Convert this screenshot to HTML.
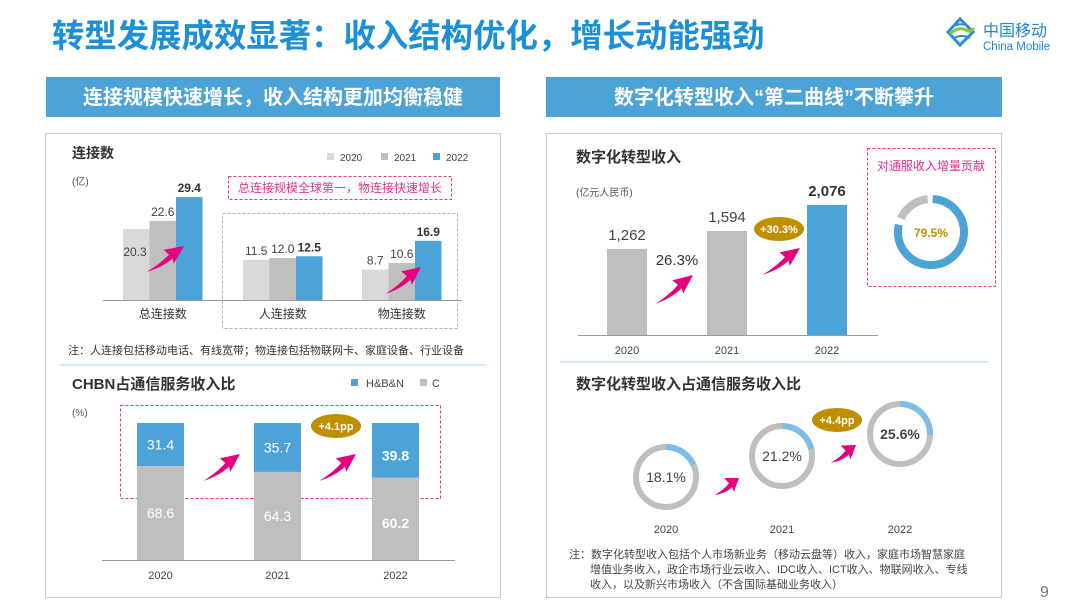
<!DOCTYPE html>
<html><head><meta charset="utf-8"><style>
html,body{margin:0;padding:0;background:#fff;width:1080px;height:607px;overflow:hidden}
svg{display:block;font-family:"Liberation Sans","Noto Sans CJK SC",sans-serif}
</style></head><body>
<svg id="s" width="1080" height="607" viewBox="0 0 1080 607">
<text x="52" y="47" font-size="32.4" font-weight="bold" fill="#1b8fd8">转型发展成效显著：收入结构优化，增长动能强劲</text>
<g>
<path d="M948,32 L960,19 L973,32 L960,45 Z" fill="none" stroke="#2a8fd6" stroke-width="3"/>
<path d="M950,34 Q958,26 966,30 Q970,33 974,28" fill="none" stroke="#8cc63f" stroke-width="3"/>
<path d="M952,27 Q960,22 968,26" fill="none" stroke="#2a8fd6" stroke-width="2"/>
<path d="M954,38 Q962,34 970,38" fill="none" stroke="#2a8fd6" stroke-width="2"/>
<text x="983" y="36" font-size="16" fill="#1f86d0">中国移动</text>
<text x="983" y="50" font-size="11.5" fill="#1f86d0">China Mobile</text>
</g>
<rect x="46" y="77" width="454" height="40" fill="#4ba3d8"/>
<text x="273" y="104" font-size="20" font-weight="bold" fill="#fff" text-anchor="middle">连接规模快速增长，收入结构更加均衡稳健</text>
<rect x="546" y="77" width="456" height="40" fill="#4ba3d8"/>
<text x="774" y="104" font-size="20" font-weight="bold" fill="#fff" text-anchor="middle">数字化转型收入“第二曲线”不断攀升</text>
<rect x="45.5" y="133.5" width="455" height="464" fill="none" stroke="#c8c8c8"/>
<rect x="546.5" y="133.5" width="455" height="464" fill="none" stroke="#c8c8c8"/>
<line x1="60" y1="365" x2="487" y2="365" stroke="#d6e9f7" stroke-width="2"/>
<line x1="560" y1="362" x2="988" y2="362" stroke="#d6e9f7" stroke-width="2"/>

<text x="72" y="158" font-size="14" font-weight="bold" fill="#333">连接数</text>
<text x="72" y="185" font-size="10" fill="#555">(亿)</text>
<rect x="228.5" y="176.5" width="223" height="23" fill="none" stroke="#e8318a" stroke-dasharray="3,2"/>
<text x="340" y="192" font-size="12" fill="#e8318a" text-anchor="middle">总连接规模全球第一，物连接快速增长</text>
<rect x="222.5" y="213.5" width="235" height="115" fill="none" stroke="#b0b0b0" stroke-dasharray="3,2"/>
<text x="68" y="354" font-size="11" fill="#333">注：人连接包括移动电话、有线宽带；物连接包括物联网卡、家庭设备、行业设备</text>

<text x="72" y="389" font-size="15" font-weight="bold" fill="#333">CHBN占通信服务收入比</text>
<text x="72" y="416" font-size="10" fill="#555">(%)</text>
<rect x="351" y="379" width="7" height="7" fill="#4ba3d8"/>
<text x="366" y="387" font-size="11" fill="#444">H&amp;B&amp;N</text>
<rect x="420" y="379" width="7" height="7" fill="#bfbfbf"/>
<text x="432" y="387" font-size="11" fill="#444">C</text>
<rect x="120.5" y="405.5" width="320" height="93" fill="none" stroke="#e8318a" stroke-dasharray="3,2"/>

<text x="576" y="162" font-size="15" font-weight="bold" fill="#333">数字化转型收入</text>
<text x="576" y="196" font-size="10" fill="#555">(亿元人民币)</text>
<rect x="867.5" y="148.5" width="128" height="138" fill="none" stroke="#e8318a" stroke-dasharray="3,2"/>
<text x="931" y="170" font-size="12" fill="#e8318a" text-anchor="middle">对通服收入增量贡献</text>

<text x="576" y="389" font-size="15" font-weight="bold" fill="#333">数字化转型收入占通信服务收入比</text>
<g font-size="11" fill="#444">
<text x="569" y="558">注：数字化转型收入包括个人市场新业务（移动云盘等）收入，家庭市场智慧家庭</text>
<text x="590" y="573">增值业务收入，政企市场行业云收入、IDC收入、ICT收入、物联网收入、专线</text>
<text x="590" y="588">收入，以及新兴市场收入（不含国际基础业务收入）</text>
</g>
<text x="1040" y="597" font-size="16" fill="#777">9</text>
<g id="dyn"></g>
</svg>
<script>
// Chart 1: connections (亿)
const connCats = ['总连接数','人连接数','物连接数'];
const connYears = ['2020','2021','2022'];
const conn2020 = [20.3, 11.5, 8.7];
const conn2021 = [22.6, 12.0, 10.6];
const conn2022 = [29.4, 12.5, 16.9];
// Chart 2: CHBN share (%)
const chbnYears = ['2020','2021','2022'];
const chbnHBN = [31.4, 35.7, 39.8];
const chbnC = [68.6, 64.3, 60.2];
// Chart 3: digital revenue
const digYears = ['2020','2021','2022'];
const digRevenue = [1262, 1594, 2076];
const digRevenueLabels = ['1,262','1,594','2,076'];
const digGrowth = ['26.3%','+30.3%'];
const contribution = [79.5];
// Chart 4: digital share (%)
const shareYears = ['2020','2021','2022'];
const shareValues = [18.1, 21.2, 25.6];

const NS='http://www.w3.org/2000/svg';
const dyn=document.getElementById('dyn');
function mk(tag,attrs,parent){const e=document.createElementNS(NS,tag);for(const k in attrs)e.setAttribute(k,attrs[k]);(parent||dyn).appendChild(e);return e;}
function txt(x,y,s,size,fill,bold,anchor){const t=mk('text',{x:x,y:y,'font-size':size,fill:fill,'text-anchor':anchor||'middle'});if(bold)t.setAttribute('font-weight','bold');t.textContent=s;return t;}
function arrow(x1,y1,x2,y2){
  const dx=x2-x1,dy=y2-y1,L=Math.hypot(dx,dy),a=Math.atan2(dy,dx)*180/Math.PI;
  const g=mk('g',{transform:`translate(${x1},${y1}) rotate(${a})`});
  
  
  mk('path',{d:`M0,1 Q${L*0.35},2 ${L*0.62},-1 L${L*0.58},-8 L${L},0 L${L*0.6},9 L${L*0.64},4 Q${L*0.35},6 0,1 Z`,fill:'#e6007e'},g);
}
function oval(cx,cy,s){
  const g=mk('g',{});
  
  
  mk('ellipse',{cx:cx,cy:cy,rx:25,ry:12,fill:'#bf8f00'},g);
  const t=txt(cx,cy+4,s,11,'#fff',true);g.appendChild(t);
}

(function(){
  const base=300, k=3.5, bw=26.5;
  const groupX=[123,243,362];
  const cols=['#d9d9d9','#bfbfbf','#4ba3d8'];
  const series=[conn2020,conn2021,conn2022];
  const y=v=>base-v*k;
  mk('line',{x1:103,y1:base+0.5,x2:462,y2:base+0.5,stroke:'#999'});
  connCats.forEach((c,i)=>{
    series.forEach((s,j)=>{
      const x=groupX[i]+j*bw;
      const r=mk('rect',{x:x,y:y(s[i]),width:bw,height:s[i]*k,fill:cols[j]});
      
      
      const label=s[i].toFixed(1);
      if(i===0&&j===0) txt(x+12,y(s[i])+27,label,12,'#444',false);
      else txt(x+bw/2,y(s[i])-5,label,12,j===2?'#333':'#444',j===2);
    });
    const t=txt(groupX[i]+bw*1.5,base+18,c,12,'#333',false);
    
    
  });
  const lx=[327,381,433];
  connYears.forEach((yr,j)=>{
    mk('rect',{x:lx[j],y:153,width:7,height:7,fill:cols[j]});
    const t=txt(lx[j]+13,161,yr,10,'#444',false,'start');
    
    
  });
  arrow(146,271,184,246);
  arrow(385,293,421,267);
})();

(function(){
  const base=560,k=1.37,bw=47,xs=[137,254,372];
  mk('line',{x1:102,y1:base+0.5,x2:455,y2:base+0.5,stroke:'#999'});
  chbnYears.forEach((yr,i)=>{
    const hC=chbnC[i]*k,hH=chbnHBN[i]*k,b=i===2;
    const r1=mk('rect',{x:xs[i],y:base-hC,width:bw,height:hC,fill:'#bfbfbf'});
    
    
    const r2=mk('rect',{x:xs[i],y:base-hC-hH,width:bw,height:hH,fill:'#4ba3d8'});
    
    
    txt(xs[i]+bw/2,base-hC-hH/2+5+(b?5:0),chbnHBN[i].toFixed(1),14,'#fff',b);
    txt(xs[i]+bw/2,base-hC/2+5+(b?4:0),chbnC[i].toFixed(1),14,'#fff',b);
    txt(xs[i]+bw/2,base+19,yr,11,'#444',false);
  });
  arrow(203,480,240,454);
  arrow(319,480,356,454);
  oval(336,426,'+4.1pp');
})();

(function(){
  const base=335,k=0.054,off=333,bw=40,xs=[607,707,807];
  const h=v=>(v+off)*k;
  mk('line',{x1:578,y1:base+0.5,x2:878,y2:base+0.5,stroke:'#999'});
  digYears.forEach((yr,i)=>{
    const b=i===2;
    const r=mk('rect',{x:xs[i],y:base-h(digRevenue[i]),width:bw,height:h(digRevenue[i]),fill:b?'#4ba3d8':'#bfbfbf'});
    
    
    txt(xs[i]+bw/2,base-h(digRevenue[i])-9,digRevenueLabels[i],15,b?'#333':'#444',b);
    txt(xs[i]+bw/2,base+19,yr,11,'#444',false);
  });
  txt(677,265,digGrowth[0],15,'#333',false);
  arrow(655,303,693,275);
  arrow(762,274,800,248);
  oval(779,229,digGrowth[1]);
  const cx=931,cy=232,r=33,C=2*Math.PI*r,v=contribution[0]/100;
  mk('circle',{cx:cx,cy:cy,r:r,fill:'none',stroke:'#4ba3d8','stroke-width':8,'stroke-dasharray':`${C*v-4} ${C}`,transform:`rotate(${-90+3} ${cx} ${cy})`});
  mk('circle',{cx:cx,cy:cy,r:r,fill:'none',stroke:'#bfbfbf','stroke-width':8,'stroke-dasharray':`${C*(1-v)-8} ${C}`,transform:`rotate(${-90+360*v+8} ${cx} ${cy})`});
  txt(cx,cy+5,contribution[0].toFixed(1)+'%',12,'#bf8f00',true);
})();

(function(){
  const cxs=[666,782,900],cys=[477,456,434],r=30;
  const C=2*Math.PI*r;
  shareYears.forEach((yr,i)=>{
    const g=mk('g',{});
    
    
    mk('circle',{cx:cxs[i],cy:cys[i],r:r,fill:'none',stroke:'#bfbfbf','stroke-width':6},g);
    mk('circle',{cx:cxs[i],cy:cys[i],r:r,fill:'none',stroke:'#7dbde6','stroke-width':6,'stroke-dasharray':`${C*shareValues[i]/100} ${C}`,transform:`rotate(-90 ${cxs[i]} ${cys[i]})`},g);
    const b=i===2;
    txt(cxs[i],cys[i]+5,shareValues[i].toFixed(1)+'%',14,'#444',b);
    txt(cxs[i],533,yr,11,'#444',false);
  });
  arrow(714,494,739,478);
  arrow(830,462,856,445);
  oval(837,420,'+4.4pp');
})();
</script>
</body></html>
